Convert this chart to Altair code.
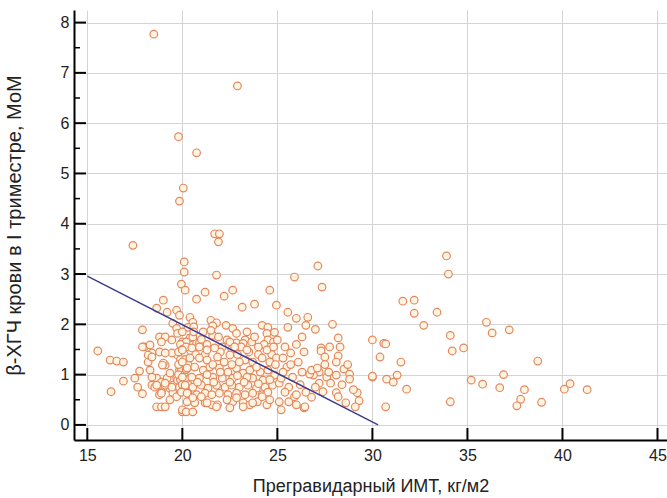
import altair as alt
import pandas as pd

# ---- data (BMI, MoM) ----
outliers = [(18.5, 7.77), (22.9, 6.74), (19.8, 5.73), (20.75, 5.41), (20.05, 4.71), (19.85, 4.45),
            (17.4, 3.57), (21.7, 3.8), (21.95, 3.8), (21.9, 3.64), (20.1, 3.24), (20.1, 3.04),
            (21.8, 2.98), (19.95, 2.8), (20.15, 2.68), (22.65, 2.68), (22.2, 2.56), (21.2, 2.64),
            (20.75, 2.5), (24.6, 2.68), (19.0, 2.48), (23.15, 2.34), (23.8, 2.4), (24.95, 2.38),
            (27.13, 3.16), (25.9, 2.94), (27.35, 2.74), (25.55, 2.24), (26.0, 2.12), (26.6, 2.14),
            (25.55, 1.94), (26.5, 1.98), (27.9, 2.0), (28.2, 1.73), (30.0, 1.69), (30.6, 1.62)]

mid_band = [(18.65, 2.32), (19.2, 2.24), (19.7, 2.28), (19.85, 2.18), (17.9, 1.89), (18.8, 1.75),
            (19.1, 1.75), (18.9, 1.65), (18.0, 1.55), (18.3, 1.59), (19.5, 2.02), (19.7, 1.92),
            (19.75, 1.82), (19.45, 1.69), (20.4, 2.14), (20.55, 2.04), (20.3, 1.94), (20.6, 1.95),
            (20.4, 1.73), (20.0, 1.65), (20.75, 1.63), (21.1, 1.85), (21.5, 2.08), (21.8, 2.03),
            (21.6, 1.97), (21.6, 1.78), (22.3, 1.98), (22.65, 1.92), (22.85, 1.82), (22.35, 1.69),
            (22.85, 1.63), (23.3, 1.69), (23.65, 1.65), (24.2, 1.98), (24.5, 1.94), (24.45, 1.82),
            (24.85, 1.84), (24.5, 1.69), (24.8, 1.65), (20.0, 1.85), (20.55, 1.75), (20.2, 1.65),
            (20.9, 1.62), (23.2, 1.62), (22.5, 1.65), (20.6, 1.85), (21.0, 1.7), (21.3, 1.6),
            (21.5, 1.88), (21.9, 1.75), (22.1, 1.55), (22.0, 1.45), (22.6, 1.5), (22.9, 1.4),
            (23.1, 1.55), (23.5, 1.45), (23.4, 1.85), (23.8, 1.75), (24.0, 1.4), (24.3, 1.6),
            (24.7, 1.4), (21.2, 1.4), (20.7, 1.4), (25.0, 1.69)]

left_cluster = [(15.55, 1.47), (16.2, 1.29), (16.55, 1.27), (16.9, 1.25), (16.9, 0.87), (16.25, 0.66),
                (17.5, 0.93), (17.65, 0.75), (17.9, 0.62), (17.75, 1.07), (17.9, 1.55), (18.2, 1.25),
                (18.3, 1.09), (18.4, 1.43), (18.8, 1.45), (19.1, 1.19), (18.65, 0.93), (18.55, 0.79),
                (18.9, 0.85), (19.2, 0.93), (19.35, 1.03), (18.8, 0.6), (18.65, 0.36), (18.9, 0.36),
                (18.9, 0.66), (19.35, 0.73), (19.1, 0.79), (19.5, 0.79), (19.5, 0.64), (19.7, 0.93),
                (20.0, 0.26), (19.75, 1.39), (19.45, 1.43), (19.1, 1.43), (19.0, 1.23), (18.4, 0.79),
                (18.2, 1.39), (18.4, 1.35), (18.95, 1.19), (18.55, 0.75), (19.1, 0.83), (18.9, 0.63),
                (19.45, 0.75), (19.35, 0.5), (19.7, 0.56), (19.85, 1.09), (19.75, 0.89), (19.85, 0.75),
                (18.4, 0.95), (18.65, 0.79), (19.1, 0.36)]

band_20 = [(19.9, 1.6), (20.0, 1.5), (20.1, 1.4), (19.9, 1.3), (20.05, 1.2), (19.95, 1.1), (20.1, 1.0),
           (19.9, 0.9), (20.0, 0.8), (20.1, 0.7), (19.95, 0.65), (20.2, 1.55), (20.15, 1.3),
           (20.2, 1.1), (20.25, 0.9), (19.8, 1.0), (19.8, 1.2), (19.8, 1.45), (20.3, 1.2), (20.3, 0.8)]

center_cluster = [(20.0, 1.49), (20.5, 1.53), (20.9, 1.55), (21.3, 1.49), (21.7, 1.53), (21.85, 1.35),
                  (22.5, 1.39), (22.75, 1.55), (23.4, 1.49), (24.0, 1.55), (24.45, 1.49), (24.8, 1.55),
                  (20.4, 1.33), (20.9, 1.33), (21.3, 1.29), (20.0, 1.25), (23.3, 1.29), (23.7, 1.25),
                  (24.2, 1.33), (24.6, 1.25), (24.95, 1.33),
                  (20.25, 1.13), (20.65, 1.15), (21.1, 1.09), (21.45, 1.15), (21.95, 1.13), (22.4, 1.05),
                  (22.85, 1.13), (23.2, 1.03), (23.55, 1.09), (24.1, 1.05), (24.5, 1.09), (24.85, 0.99),
                  (20.0, 0.95), (20.5, 0.95), (20.9, 0.93), (21.6, 0.95), (22.1, 0.93), (22.65, 0.93),
                  (23.7, 0.93), (24.25, 0.89),
                  (20.15, 0.79), (20.55, 0.75), (21.0, 0.79), (21.35, 0.73), (21.8, 0.79), (22.25, 0.75),
                  (22.6, 0.79), (23.0, 0.75), (23.45, 0.79), (23.9, 0.73), (24.35, 0.75), (24.75, 0.79),
                  (20.3, 0.63), (20.75, 0.6), (21.2, 0.63), (21.55, 0.6), (21.95, 0.63), (22.4, 0.6),
                  (22.85, 0.63), (23.3, 0.6), (23.7, 0.63), (24.2, 0.6), (24.5, 0.65),
                  (20.25, 0.46), (20.65, 0.44), (21.2, 0.44), (21.55, 0.4), (21.85, 0.4), (22.65, 0.46),
                  (23.2, 0.44), (23.55, 0.4), (23.95, 0.46), (24.45, 0.4), (20.0, 0.3), (22.5, 0.34),
                  (20.2, 0.26), (20.55, 0.26), (20.25, 0.63), (20.55, 0.54), (21.0, 0.56), (21.3, 0.44),
                  (21.8, 0.36), (22.35, 0.5), (22.85, 0.54), (23.2, 0.36), (23.7, 0.44), (24.2, 0.56),
                  (24.6, 0.5), (21.6, 1.2), (22.2, 1.25), (22.6, 1.2), (23.0, 1.25), (23.9, 1.15),
                  (24.9, 1.2), (21.3, 1.0), (22.0, 1.05), (22.9, 0.98), (23.4, 0.95), (24.6, 0.9),
                  (22.5, 0.85), (21.65, 0.85), (20.8, 0.85), (23.25, 0.85), (24.0, 0.82)]

right_cluster = [(25.4, 1.55), (27.3, 1.53), (27.75, 1.55), (27.3, 1.47), (27.5, 1.35), (28.2, 1.37),
                 (28.1, 1.25), (28.5, 1.11), (28.8, 1.01), (28.8, 0.91), (28.1, 0.99), (27.6, 0.95),
                 (27.2, 1.05), (27.2, 0.83), (26.9, 0.99), (26.7, 1.01), (27.8, 0.83), (27.4, 0.66),
                 (28.1, 0.64), (28.2, 0.56), (29.2, 0.64), (29.3, 0.48), (28.6, 0.44), (29.1, 0.36),
                 (26.4, 0.34), (26.0, 0.4), (25.2, 0.3), (25.6, 0.46), (25.9, 0.56), (25.8, 0.95),
                 (25.5, 1.15), (25.1, 0.83), (25.3, 1.33), (25.7, 1.43), (26.8, 1.09), (27.1, 1.13),
                 (25.2, 0.93), (26.0, 0.6), (26.45, 0.36), (25.1, 0.46), (30.0, 0.95),
                 (25.3, 1.05), (25.7, 1.2), (26.1, 1.25), (26.3, 1.05), (26.2, 0.8), (25.6, 0.75),
                 (26.5, 0.65), (25.4, 0.65), (26.8, 0.55), (27.0, 0.75), (27.5, 1.2), (26.4, 1.45),
                 (26.0, 1.6), (26.3, 1.75), (27.0, 1.9), (27.7, 1.05), (28.4, 0.8), (29.0, 0.7),
                 (28.3, 1.55), (28.7, 1.2)]

far_right = [(33.9, 3.36), (34.0, 3.0), (31.6, 2.46), (32.2, 2.48), (32.2, 2.22), (33.4, 2.24),
             (32.7, 1.98), (34.1, 1.78), (34.2, 1.47), (34.8, 1.53), (30.7, 1.61), (30.4, 1.35),
             (31.5, 1.25), (31.3, 0.99), (30.0, 0.97), (30.75, 0.91), (31.1, 0.85), (31.8, 0.71),
             (30.7, 0.36), (34.1, 0.46), (35.2, 0.89), (35.8, 0.81), (36.0, 2.04), (36.3, 1.83),
             (37.2, 1.89), (38.7, 1.27), (36.9, 1.0), (36.7, 0.74), (38.0, 0.7), (37.8, 0.51),
             (37.6, 0.38), (38.9, 0.45), (40.1, 0.71), (40.4, 0.82), (41.3, 0.7)]

# regression line end points
fit_bmi = [15.0, 30.3]
fit_mom = [2.96, 0.0]

x_ticks = [15, 20, 25, 30, 35, 40, 45]
y_ticks = [0, 1, 2, 3, 4, 5, 6, 7, 8]
y_minor = [0.5, 1.5, 2.5, 3.5, 4.5, 5.5, 6.5, 7.5]

all_pts = outliers + mid_band + left_cluster + band_20 + center_cluster + right_cluster + far_right
pts = pd.DataFrame(all_pts, columns=["bmi", "mom"])
fit = pd.DataFrame({"bmi": fit_bmi, "mom": fit_mom})

W, H = 593, 430
FONT = "Liberation Sans"
xs = alt.Scale(domain=[14.3, 45.5], nice=False, zero=False)
ys = alt.Scale(domain=[-0.3, 8.25], nice=False, zero=False)

x_axis = alt.Axis(values=x_ticks, title="Прегравидарный ИМТ, кг/м2", grid=True, gridColor="#d4d4d4",
                  gridWidth=1, domainColor="#000000", domainWidth=2, ticks=False, labelFontSize=16,
                  labelFont=FONT, labelColor="#222222", labelPadding=7, titleFont=FONT,
                  titleFontSize=18, titleFontWeight="normal", titleColor="#222222", titlePadding=14)
y_axis = alt.Axis(values=y_ticks, title="β-ХГЧ крови в I триместре, МоМ", grid=True, gridColor="#d4d4d4",
                  gridWidth=1, domainColor="#000000", domainWidth=2, ticks=False, labelFontSize=16,
                  labelFont=FONT, labelColor="#222222", labelPadding=5, titleFont=FONT,
                  titleFontSize=20, titleFontWeight="normal", titleColor="#222222", titlePadding=36)

points = alt.Chart(pts).mark_point(shape="circle", filled=True, fill="#fff4e2", stroke="#e3875c",
                                   strokeWidth=1.2, size=58, opacity=1).encode(
    x=alt.X("bmi:Q", scale=xs, axis=x_axis),
    y=alt.Y("mom:Q", scale=ys, axis=y_axis),
)

line = alt.Chart(fit).mark_line(color="#3b3b90", strokeWidth=1.4).encode(
    x=alt.X("bmi:Q", scale=xs), y=alt.Y("mom:Q", scale=ys))

ymaj = alt.Chart(pd.DataFrame({"v": y_ticks})).mark_rule(color="#000000", strokeWidth=2).encode(
    y=alt.Y("v:Q", scale=ys), x=alt.value(0), x2=alt.value(12))
ymin = alt.Chart(pd.DataFrame({"v": y_minor})).mark_rule(color="#000000", strokeWidth=1.5).encode(
    y=alt.Y("v:Q", scale=ys), x=alt.value(0), x2=alt.value(6))
xmaj = alt.Chart(pd.DataFrame({"v": x_ticks})).mark_rule(color="#000000", strokeWidth=2).encode(
    x=alt.X("v:Q", scale=xs), y=alt.value(H), y2=alt.value(H - 12))

chart = alt.layer(points, line, ymaj, ymin, xmaj).properties(
    width=W, height=H,
    autosize=alt.AutoSizeParams(type="none"),
    padding={"left": 74, "top": 10, "right": 0, "bottom": 58},
    background="#ffffff",
).configure_view(stroke=None)

chart.save("out.html", embed_options={"renderer": "svg", "actions": False})
